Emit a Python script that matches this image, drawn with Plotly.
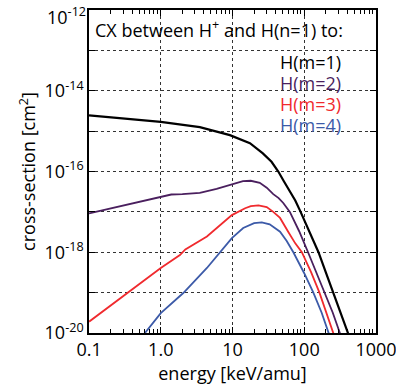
import plotly.graph_objects as go

# ---- data (energy in keV/amu, log10 of cross-section in cm^2) ----
e_m1 = [0.1, 0.3, 1.0, 3.5, 9.2, 17.5, 26.5, 35, 43.5, 52, 63, 75, 89, 120, 158, 200, 254, 320, 411, 480]
v_m1 = [-14.61, -14.69, -14.77, -14.90, -15.10, -15.30, -15.55, -15.76, -16.0, -16.24, -16.5, -16.72, -17.0, -17.5, -18.0, -18.5, -19.0, -19.48, -20.0, -20.35]

e_m2 = [0.1, 0.3, 1.0, 1.4, 2.0, 3.5, 6.0, 10, 14, 18, 24, 30, 37, 44, 51, 63, 85, 113, 150, 194, 250, 314, 360]
v_m2 = [-17.04, -16.84, -16.63, -16.57, -16.56, -16.53, -16.43, -16.32, -16.24, -16.23, -16.28, -16.40, -16.56, -16.66, -16.78, -17.0, -17.48, -18.0, -18.52, -19.0, -19.5, -20.0, -20.3]

e_m3 = [0.1, 0.3, 1.0, 1.85, 2.2, 4.4, 9.8, 15, 18, 23, 30, 37, 46, 60, 75, 92.6, 125, 163, 205, 254, 290]
v_m3 = [-19.72, -19.09, -18.39, -18.07, -17.93, -17.61, -17.08, -16.91, -16.86, -16.84, -16.88, -17.00, -17.15, -17.50, -17.78, -18.0, -18.5, -19.0, -19.5, -20.0, -20.3]

e_m4 = [0.5, 0.6, 1.0, 2.06, 4.4, 9.8, 14.1, 20, 25.6, 33, 46, 57, 70.5, 100, 134, 175, 216, 250]
v_m4 = [-20.18, -20.0, -19.51, -19.01, -18.39, -17.65, -17.40, -17.28, -17.26, -17.31, -17.49, -17.72, -18.0, -18.52, -19.0, -19.5, -20.0, -20.3]

labels = ["H(m=1)", "H(m=2)", "H(m=3)", "H(m=4)"]
colors = ["#000000", "#4a1f5e", "#f02a2e", "#3c5aa8"]
widths = [2.2, 1.8, 1.8, 1.8]

x_tickvals = [0.1, 1, 10, 100, 1000]
x_ticktext = ["0.1", "1.0", "10", "100", "1000"]
y_exps = [-20, -18, -16, -14]
y_top_exp = -12
title_text = "CX between H<sup>+</sup> and H(n=1) to:"

FONT = "Open Sans"
FS = 18

fig = go.Figure()
for e, v, lab, c, w in zip([e_m1, e_m2, e_m3, e_m4], [v_m1, v_m2, v_m3, v_m4], labels, colors, widths):
    fig.add_trace(go.Scatter(x=e, y=[10 ** t for t in v], mode="lines", name=lab,
                             line=dict(color=c, width=w), showlegend=False))

minor_x = [m * 10 ** k for k in range(-1, 3) for m in range(2, 10)]

fig.update_xaxes(type="log", range=[-1.0005, 3.0005], tickmode="array", tickvals=x_tickvals,
                 ticktext=x_ticktext, ticks="inside", ticklen=6, tickcolor="black",
                 showline=True, linecolor="black", linewidth=1.5, mirror="allticks",
                 showgrid=True, gridcolor="#333333", griddash="dot", gridwidth=1,
                 minor=dict(tickmode="array", tickvals=minor_x, ticks="inside", ticklen=4,
                            tickcolor="black", showgrid=False),
                 tickfont=dict(size=FS, color="black", family=FONT),
                 ticklabeloverflow="allow", automargin=False,
                 title=dict(text="energy [keV/amu]", font=dict(size=FS, color="black", family=FONT),
                            standoff=2),
                 zeroline=False)

fig.update_yaxes(type="log", range=[-20.001, -11.999], tickmode="array",
                 tickvals=[10 ** k for k in range(-20, -11)],
                 ticktext=[("10<sup>%d</sup>" % k) if k in y_exps else "" for k in range(-20, -11)],
                 ticks="inside", ticklen=6, tickcolor="black",
                 showline=True, linecolor="black", linewidth=1.5, mirror="allticks",
                 showgrid=True, gridcolor="#333333", griddash="dot", gridwidth=1,
                 tickfont=dict(size=FS, color="black", family=FONT),
                 ticklabeloverflow="allow", automargin=False,
                 title=dict(text="cross-section [cm<sup>2</sup>]", font=dict(size=FS, color="black", family=FONT),
                            standoff=4),
                 zeroline=False)

# top y tick label, nudged down to stay inside the page (as in the reference)
fig.add_annotation(x=0, y=1, xref="paper", yref="paper", xanchor="right", yanchor="top",
                   xshift=-1, yshift=9, text="10<sup>%d</sup>" % y_top_exp, showarrow=False,
                   font=dict(size=FS, color="black", family=FONT))

fig.add_annotation(x=0.015, y=0.988, xref="paper", yref="paper", xanchor="left", yanchor="top",
                   text=title_text, showarrow=False, font=dict(size=FS, color="black", family=FONT))
for i, (lab, c) in enumerate(zip(labels, colors)):
    fig.add_annotation(x=0.885, y=0.84 - i * 0.065, xref="paper", yref="paper", xanchor="right",
                       yanchor="middle", text=lab, showarrow=False,
                       font=dict(size=FS, color=c, family=FONT))

fig.update_layout(width=396, height=389, margin=dict(l=89, r=20, t=10, b=56),
                  paper_bgcolor="white", plot_bgcolor="white",
                  font=dict(family=FONT, color="black"))

fig.write_html("out.html")
